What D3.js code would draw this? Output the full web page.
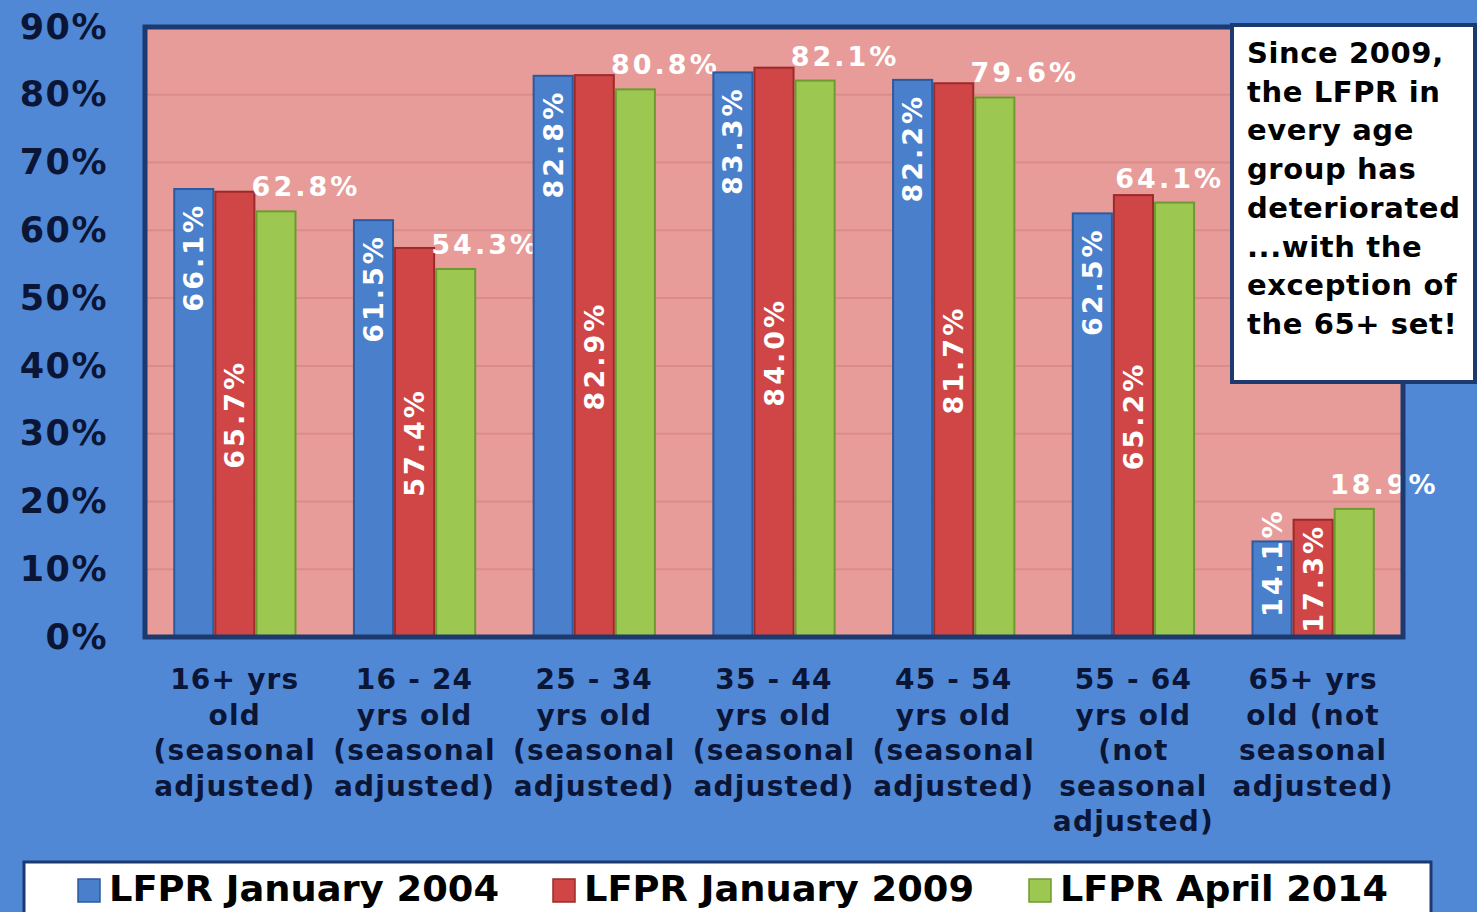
<!DOCTYPE html>
<html>
<head>
<meta charset="utf-8">
<script src="https://cdn.jsdelivr.net/npm/d3@7"></script>
<style>
  html, body { margin: 0; padding: 0; background: #5088d6; }
  svg { display: block; }
</style>
</head>
<body>
<svg id="chart" width="1477" height="912"></svg>
<script>
// ---- data ----
const categories = [
  "16+ yrs\nold\n(seasonal\nadjusted)",
  "16 - 24\nyrs old\n(seasonal\nadjusted)",
  "25 - 34\nyrs old\n(seasonal\nadjusted)",
  "35 - 44\nyrs old\n(seasonal\nadjusted)",
  "45 - 54\nyrs old\n(seasonal\nadjusted)",
  "55 - 64\nyrs old\n(not\nseasonal\nadjusted)",
  "65+ yrs\nold (not\nseasonal\nadjusted)"
];
const seriesNames = ["LFPR January 2004", "LFPR January 2009", "LFPR April 2014"];
const jan2004 = [66.1, 61.5, 82.8, 83.3, 82.2, 62.5, 14.1];
const jan2009 = [65.7, 57.4, 82.9, 84.0, 81.7, 65.2, 17.3];
const apr2014 = [62.8, 54.3, 80.8, 82.1, 79.6, 64.1, 18.9];
const yTicks = [0, 10, 20, 30, 40, 50, 60, 70, 80, 90];
const noteLines = ["Since 2009,", "the LFPR in", "every age", "group has", "deteriorated", "...with the", "exception of", "the 65+ set!"];

const seriesValues = [jan2004, jan2009, apr2014];
const colors = ["#4a7fcc", "#d04545", "#9cc750"];
const strokes = ["#2c5a9e", "#9c2a2a", "#6f9a30"];

// ---- layout ----
const svg = d3.select("#chart");
const W = 1477, H = 912;
const plot = { left: 145, right: 1403, top: 27, bottom: 637 };
const noteBox = { x: 1232, y: 25, w: 243, h: 357 };

svg.append("rect").attr("width", W).attr("height", H).attr("fill", "#5088d6");

const y = d3.scaleLinear().domain([0, 90]).range([plot.bottom, plot.top]);
const x0 = d3.scaleBand().domain(d3.range(categories.length))
  .range([plot.left, plot.right]).paddingInner(0.314).paddingOuter(0.157);
const x1 = d3.scaleBand().domain(d3.range(seriesNames.length))
  .range([0, x0.bandwidth()]).padding(0);

// plot background
svg.append("rect")
  .attr("x", plot.left).attr("y", plot.top)
  .attr("width", plot.right - plot.left).attr("height", plot.bottom - plot.top)
  .attr("fill", "#e79c99");

// gridlines
svg.append("g").selectAll("line").data(yTicks.slice(1)).join("line")
  .attr("x1", plot.left).attr("x2", plot.right)
  .attr("y1", d => y(d)).attr("y2", d => y(d))
  .attr("stroke", "#da8c8b").attr("stroke-width", 2);

// y axis labels
const yAxis = d3.axisLeft(y).tickValues(yTicks).tickFormat(d => d + "%").tickSize(0).tickPadding(0);
const yg = svg.append("g").attr("transform", `translate(108,0)`).call(yAxis);
yg.select(".domain").remove();
yg.selectAll("text")
  .attr("font-family", "DejaVu Sans, Verdana, sans-serif")
  .attr("font-weight", "bold").attr("font-size", 35)
  .attr("letter-spacing", 1.5)
  .attr("fill", "#0b1536");

// bars
const groups = svg.append("g").selectAll("g").data(categories).join("g")
  .attr("transform", (d, i) => `translate(${x0(i)},0)`);

groups.selectAll("rect")
  .data((d, i) => seriesValues.map((s, k) => ({ k, v: s[i] })))
  .join("rect")
  .attr("x", d => x1(d.k) + 1).attr("width", x1.bandwidth() - 2)
  .attr("y", d => y(d.v)).attr("height", d => y(0) - y(d.v))
  .attr("fill", d => colors[d.k])
  .attr("stroke", d => strokes[d.k]).attr("stroke-width", 2);

// border
svg.append("rect")
  .attr("x", plot.left).attr("y", plot.top)
  .attr("width", plot.right - plot.left).attr("height", plot.bottom - plot.top)
  .attr("fill", "none").attr("stroke", "#1d3a70").attr("stroke-width", 5);

const labelFont = "DejaVu Sans, Verdana, sans-serif";
const fmt = v => v.toFixed(1) + "%";

// note box (drawn before green labels so labels stay visible beside it)
svg.append("rect").attr("x", noteBox.x).attr("y", noteBox.y).attr("width", noteBox.w).attr("height", noteBox.h)
  .attr("fill", "#ffffff").attr("stroke", "#1d3a70").attr("stroke-width", 4);
const note = svg.append("text")
  .attr("font-family", labelFont).attr("font-weight", "bold")
  .attr("font-size", 29).attr("letter-spacing", 0.6).attr("fill", "#000000");
noteLines.forEach((l, j) => {
  note.append("tspan").attr("x", 1247).attr("y", 63 + j * 38.7).text(l);
});

groups.raise();

groups.each(function (d, i) {
  const g = d3.select(this);
  const gx = x0(i);
  // blue labels: rotated, inside end
  const cxB = x1(0) + x1.bandwidth() / 2;
  const t = g.append("text")
    .attr("font-family", labelFont).attr("font-weight", "bold")
    .attr("font-size", 27).attr("letter-spacing", 3).attr("fill", "#ffffff")
    .attr("text-anchor", "end").attr("dominant-baseline", "central")
    .text(fmt(jan2004[i]));
  const len = t.node().getComputedTextLength();
  const topY = Math.min(y(jan2004[i]) + 14, y(0) - 20 - len);
  t.attr("transform", `translate(${cxB},${topY}) rotate(-90)`);

  // red labels: rotated, centered
  const cxR = x1(1) + x1.bandwidth() / 2;
  const midR = (y(jan2009[i]) + y(0)) / 2;
  g.append("text")
    .attr("font-family", labelFont).attr("font-weight", "bold")
    .attr("font-size", 27).attr("letter-spacing", 3).attr("fill", "#ffffff")
    .attr("text-anchor", "middle").attr("dominant-baseline", "central")
    .attr("transform", `translate(${cxR},${midR}) rotate(-90)`)
    .text(fmt(jan2009[i]));

  // green labels: horizontal above, kept clear of the note box
  const gl = g.append("text")
    .attr("font-family", labelFont).attr("font-weight", "bold")
    .attr("font-size", 27).attr("letter-spacing", 3).attr("fill", "#ffffff")
    .attr("text-anchor", "middle")
    .attr("y", y(apr2014[i]) - 15)
    .text(fmt(apr2014[i]));
  const gLen = gl.node().getComputedTextLength();
  let cxG = gx + x1(2) + x1.bandwidth() / 2 + 30;
  const labY = y(apr2014[i]) - 15;
  if (labY < noteBox.y + noteBox.h + 30 && cxG + gLen / 2 > noteBox.x - 8) {
    cxG = noteBox.x - 8 - gLen / 2;
  }
  gl.attr("x", cxG - gx);
});

// category labels
const catG = svg.append("g");
categories.forEach((c, i) => {
  const t = catG.append("text")
    .attr("font-family", labelFont).attr("font-weight", "bold")
    .attr("font-size", 28).attr("letter-spacing", 1.2).attr("fill", "#0b1536")
    .attr("text-anchor", "middle");
  c.split("\n").forEach((line, j) => {
    t.append("tspan").attr("x", x0(i) + x0.bandwidth() / 2)
      .attr("y", 689 + j * 35.5).text(line);
  });
});

// legend
svg.append("rect").attr("x", 24).attr("y", 862).attr("width", 1407).attr("height", 70)
  .attr("fill", "#ffffff").attr("stroke", "#1d3a70").attr("stroke-width", 3);
const legX = [78, 553, 1029];
seriesNames.forEach((n, k) => {
  svg.append("rect").attr("x", legX[k]).attr("y", 879).attr("width", 22).attr("height", 23)
    .attr("fill", colors[k]).attr("stroke", strokes[k]).attr("stroke-width", 1.5);
  const t = svg.append("text")
    .attr("x", legX[k] + 31).attr("y", 901)
    .attr("font-family", "DejaVu Sans Condensed, DejaVu Sans, sans-serif")
    .attr("font-weight", "bold").attr("font-size", 35).attr("fill", "#000000")
    .text(n);
  const target = [390, 390, 328][k];
  t.attr("textLength", target).attr("lengthAdjust", "spacingAndGlyphs");
});
</script>
</body>
</html>
